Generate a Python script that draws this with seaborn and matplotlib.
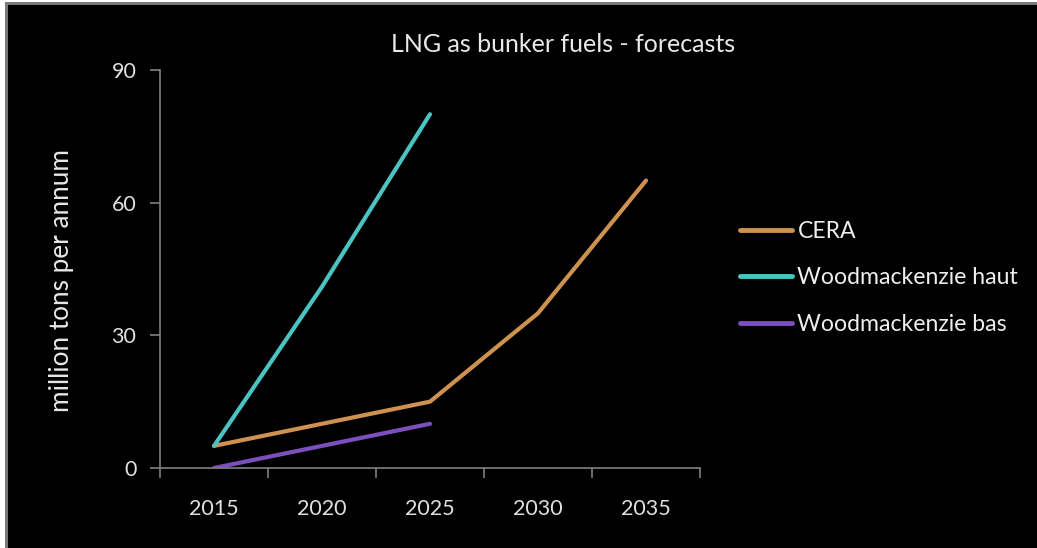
import matplotlib
matplotlib.use("Agg")
import matplotlib.pyplot as plt
import seaborn as sns
import pandas as pd
import numpy as np
from matplotlib.patches import Rectangle

years = [2015, 2020, 2025, 2030, 2035]
cera = [5, 10, 15, 35, 65]
wood_haut = [5, 41, 80, None, None]
wood_bas = [0, 5, 10, None, None]
series_names = ["CERA", "Woodmackenzie haut", "Woodmackenzie bas"]
colors = ["#cf914f", "#4bc3c3", "#7c4fbd"]
yticks = [0, 30, 60, 90]

rows = []
for name, vals in zip(series_names, [cera, wood_haut, wood_bas]):
    for y, v in zip(years, vals):
        if v is not None:
            rows.append({"year": y, "value": v, "series": name})
df = pd.DataFrame(rows)

sns.set_theme(style="dark")
plt.rcParams['font.family'] = ['Lato', 'DejaVu Sans']

fig = plt.figure(figsize=(10.37, 5.48), dpi=100, facecolor="black")
W, H = 1037, 548
# white margin on left and top, grey frame lines
fig.patches.append(Rectangle((0, 0), 5/W, 1, transform=fig.transFigure,
                             facecolor="white", edgecolor="none", zorder=-2))
fig.patches.append(Rectangle((0, 1 - 2/H), 1, 2/H, transform=fig.transFigure,
                             facecolor="white", edgecolor="none", zorder=-2))
fig.patches.append(Rectangle((5/W, 0), 3/W, 1 - 2/H, transform=fig.transFigure,
                             facecolor="#7a7a7a", edgecolor="none", zorder=-1))
fig.patches.append(Rectangle((5/W, 1 - 5/H), 1, 3/H, transform=fig.transFigure,
                             facecolor="#7a7a7a", edgecolor="none", zorder=-1))

ax = fig.add_axes([160/W, (H-468)/H, 540/W, 398/H])
ax.set_zorder(1)
ax.set_facecolor("black")

sns.lineplot(data=df, x="year", y="value", hue="series", hue_order=series_names,
             palette=colors, linewidth=3, ax=ax, legend=True, sort=False)

ax.set_xlim(2012.5, 2037.5)
ax.set_ylim(0, 90)
ax.set_xticks(years)
ax.set_xticklabels([str(y) for y in years])
ax.set_xticks([2012.5 + 5*i for i in range(6)], minor=True)
ax.set_yticks(yticks)
ax.tick_params(axis="x", which="major", bottom=True, length=0, pad=22, labelsize=15.5,
               labelcolor="#e0e0e0")
ax.tick_params(axis="x", which="minor", bottom=True, length=7, width=1.2, color="#808080",
               direction="out")
ax.tick_params(axis="y", which="major", left=True, length=7, width=1.2, color="#808080",
               direction="out", pad=10, labelsize=15.5, labelcolor="#e0e0e0")
ax.grid(False)
for side in ["top", "right"]:
    ax.spines[side].set_visible(False)
for side in ["left", "bottom"]:
    ax.spines[side].set_visible(True)
    ax.spines[side].set_color("#808080")
    ax.spines[side].set_linewidth(1.2)
ax.set_xlabel("")
ax.set_ylabel("")

fig.text(563/W, 1 - 45/H, "LNG as bunker fuels - forecasts", ha="center", va="center",
         fontsize=18, color="#e8e8e8")
fig.text(62/W, 1 - 281/H, "million tons per annum", ha="center", va="center",
         rotation=90, fontsize=18.8, color="#e8e8e8")

handles, labels = ax.get_legend_handles_labels()
leg = ax.legend(handles, labels, loc="center left", bbox_to_anchor=(719/W, 1 - 278/H),
                bbox_transform=fig.transFigure, frameon=False, fontsize=16.6,
                labelcolor="#eeeeee", handlelength=2.25, handletextpad=0.25, labelspacing=1.1)
for line in leg.get_lines():
    line.set_linewidth(3.5)

fig.savefig("out.png", dpi=100, facecolor=fig.get_facecolor())
